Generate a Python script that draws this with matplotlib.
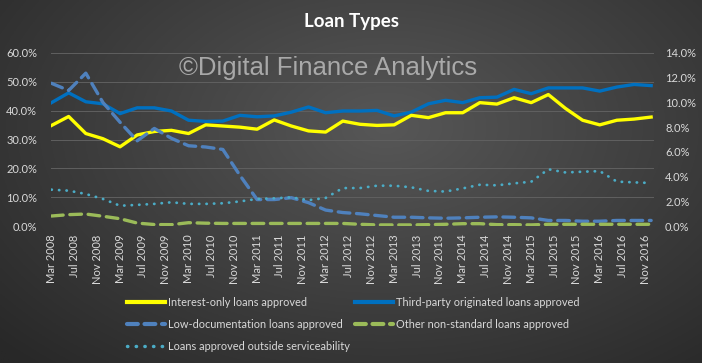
import numpy as np
import matplotlib
matplotlib.use("Agg")
import matplotlib.pyplot as plt
from matplotlib.lines import Line2D

# quarterly data, Mar 2008 .. Dec 2016
interest_only = [34.9, 38.0, 32.1, 30.3, 27.5, 31.6, 32.8, 33.2, 32.1, 35.1,
                 34.7, 34.3, 33.6, 36.8, 34.7, 33.0, 32.6, 36.4, 35.3, 34.9,
                 35.1, 38.4, 37.6, 39.3, 39.3, 42.8, 42.3, 44.5, 42.8, 45.6,
                 40.8, 36.7, 35.1, 36.7, 37.1, 37.8]
third_party = [42.8, 46.2, 43.1, 42.4, 39.0, 41.0, 41.0, 39.9, 36.7, 36.3,
               36.4, 38.4, 37.9, 38.2, 39.5, 41.3, 39.3, 39.9, 39.9, 40.1,
               38.2, 39.5, 42.4, 43.6, 42.8, 44.5, 44.7, 47.4, 45.9, 47.9,
               47.9, 47.9, 46.8, 48.2, 49.1, 48.7]
low_doc = [11.55, 10.97, 12.37, 10.0, 8.4, 6.9, 7.9, 7.1, 6.5, 6.4,
           6.2, 4.1, 2.15, 2.15, 2.3, 1.9, 1.3, 1.1, 1.0, 0.86,
           0.72, 0.72, 0.67, 0.64, 0.67, 0.72, 0.75, 0.72, 0.67, 0.46,
           0.46, 0.4, 0.4, 0.46, 0.46, 0.46]
other_nonstd = [0.82, 0.93, 0.98, 0.8, 0.6, 0.25, 0.13, 0.12, 0.28, 0.24,
                0.22, 0.22, 0.22, 0.22, 0.22, 0.22, 0.22, 0.22, 0.15, 0.1,
                0.1, 0.1, 0.12, 0.15, 0.2, 0.2, 0.12, 0.12, 0.1, 0.15,
                0.15, 0.15, 0.15, 0.15, 0.15, 0.15]
outside_serv = [2.95, 2.87, 2.6, 2.2, 1.65, 1.72, 1.8, 1.93, 1.8, 1.8,
                1.85, 2.0, 2.2, 2.25, 2.33, 2.1, 2.28, 3.08, 3.08, 3.27,
                3.27, 3.14, 2.85, 2.8, 3.05, 3.35, 3.3, 3.46, 3.59, 4.6,
                4.34, 4.4, 4.45, 3.6, 3.54, 3.49]

tick_months = ["Mar", "Jul", "Nov"]
tick_years = list(range(2008, 2017))
tick_labels = [f"{m} {y}" for y in tick_years for m in tick_months]

x = np.arange(len(interest_only)) * 3          # months since Mar 2008
tick_pos = np.arange(len(tick_labels)) * 4

txt = "#d9d9d9"
grid = "#606060"
fam = ["Lato", "DejaVu Sans"]

fig = plt.figure(figsize=(7.02, 3.63), dpi=100)

# dark radial background
bg = fig.add_axes([0, 0, 1, 1], zorder=-10)
gx, gy = np.meshgrid(np.linspace(0, 1, 400), np.linspace(0, 1, 200))
r = np.sqrt(((gx - 0.55) / 0.75) ** 2 + ((gy - 0.35) / 0.9) ** 2)
r = np.clip(r, 0, 1)
c_in = np.array([0x57, 0x57, 0x57]) / 255
c_out = np.array([0x28, 0x28, 0x28]) / 255
img = c_in[None, None, :] * (1 - r[..., None]) + c_out[None, None, :] * r[..., None]
bg.imshow(img, aspect="auto", extent=[0, 1, 0, 1])
bg.axis("off")

ax = fig.add_axes([0.0726, 0.377, 0.859, 0.477])
ax.set_facecolor("none")
ax2 = ax.twinx()

ax.plot(x, interest_only, color="#ffff00", lw=2.4, zorder=5)
ax.plot(x, third_party, color="#0070c0", lw=2.4, zorder=4)
ax2.plot(x, low_doc, color="#4f81bd", lw=2.4, ls=(0, (3.5, 2)), dash_capstyle="round")
ax2.plot(x, other_nonstd, color="#9bbb59", lw=2.4, ls=(0, (3.5, 2)), dash_capstyle="round")
ax2.plot(x, outside_serv, color="#4bacc6", lw=2.0, ls=(0, (0.1, 2.6)), dash_capstyle="round")

ax.set_ylim(0, 60)
ax.set_yticks(np.arange(0, 61, 10))
ax.set_yticklabels([f"{v:.1f}%" for v in range(0, 61, 10)])
ax2.set_ylim(0, 14)
ax2.set_yticks(np.arange(0, 15, 2))
ax2.set_yticklabels([f"{v:.1f}%" for v in range(0, 15, 2)])
ax.set_xlim(-0.1, 105.5)
ax.set_xticks(tick_pos)
ax.set_xticklabels(tick_labels, rotation=90)

ax.grid(axis="y", color=grid, lw=0.7)
ax.set_axisbelow(True)
for a in (ax, ax2):
    for s in a.spines.values():
        s.set_visible(False)
    a.tick_params(length=0, colors=txt, labelsize=8)
    for lab in a.get_xticklabels() + a.get_yticklabels():
        lab.set_family(fam)
ax.tick_params(axis="x", pad=6)
ax.tick_params(axis="y", pad=10)
ax2.tick_params(axis="y", pad=8)

fig.text(0.501, 0.942, "Loan Types", color="white", fontsize=13.5, fontweight="bold",
         ha="center", va="center", family=fam)
fig.text(0.467, 0.813, "\u00a9Digital Finance Analytics", color="#b4b4b4", fontsize=18.5,
         ha="center", va="center", family=["Liberation Sans", "DejaVu Sans"], alpha=0.9)

dash = (0, (2.6, 1.6))
dots = (0, (0.1, 2.4))
col1 = [
    (Line2D([], [], color="#ffff00", lw=3), "Interest-only loans approved"),
    (Line2D([], [], color="#4f81bd", lw=3, ls=dash, dash_capstyle="round"),
     "Low-documentation loans approved"),
    (Line2D([], [], color="#4bacc6", lw=2.5, ls=dots, dash_capstyle="round"),
     "Loans approved outside serviceability"),
]
col2 = [
    (Line2D([], [], color="#0070c0", lw=3), "Third-party originated loans approved"),
    (Line2D([], [], color="#9bbb59", lw=3, ls=dash, dash_capstyle="round"),
     "Other non-standard loans approved"),
]
for items, x0 in ((col1, 127 / 702), (col2, 355 / 702)):
    leg = fig.legend([h for h, _ in items], [l for _, l in items], loc="upper left",
                     bbox_to_anchor=(x0, 0.182), frameon=False, handlelength=3.5,
                     handletextpad=0.2, labelspacing=1.0,
                     prop={"family": fam, "size": 7.9}, borderaxespad=0, borderpad=0)
    for t in leg.get_texts():
        t.set_color(txt)

fig.savefig("out.png", dpi=100)
